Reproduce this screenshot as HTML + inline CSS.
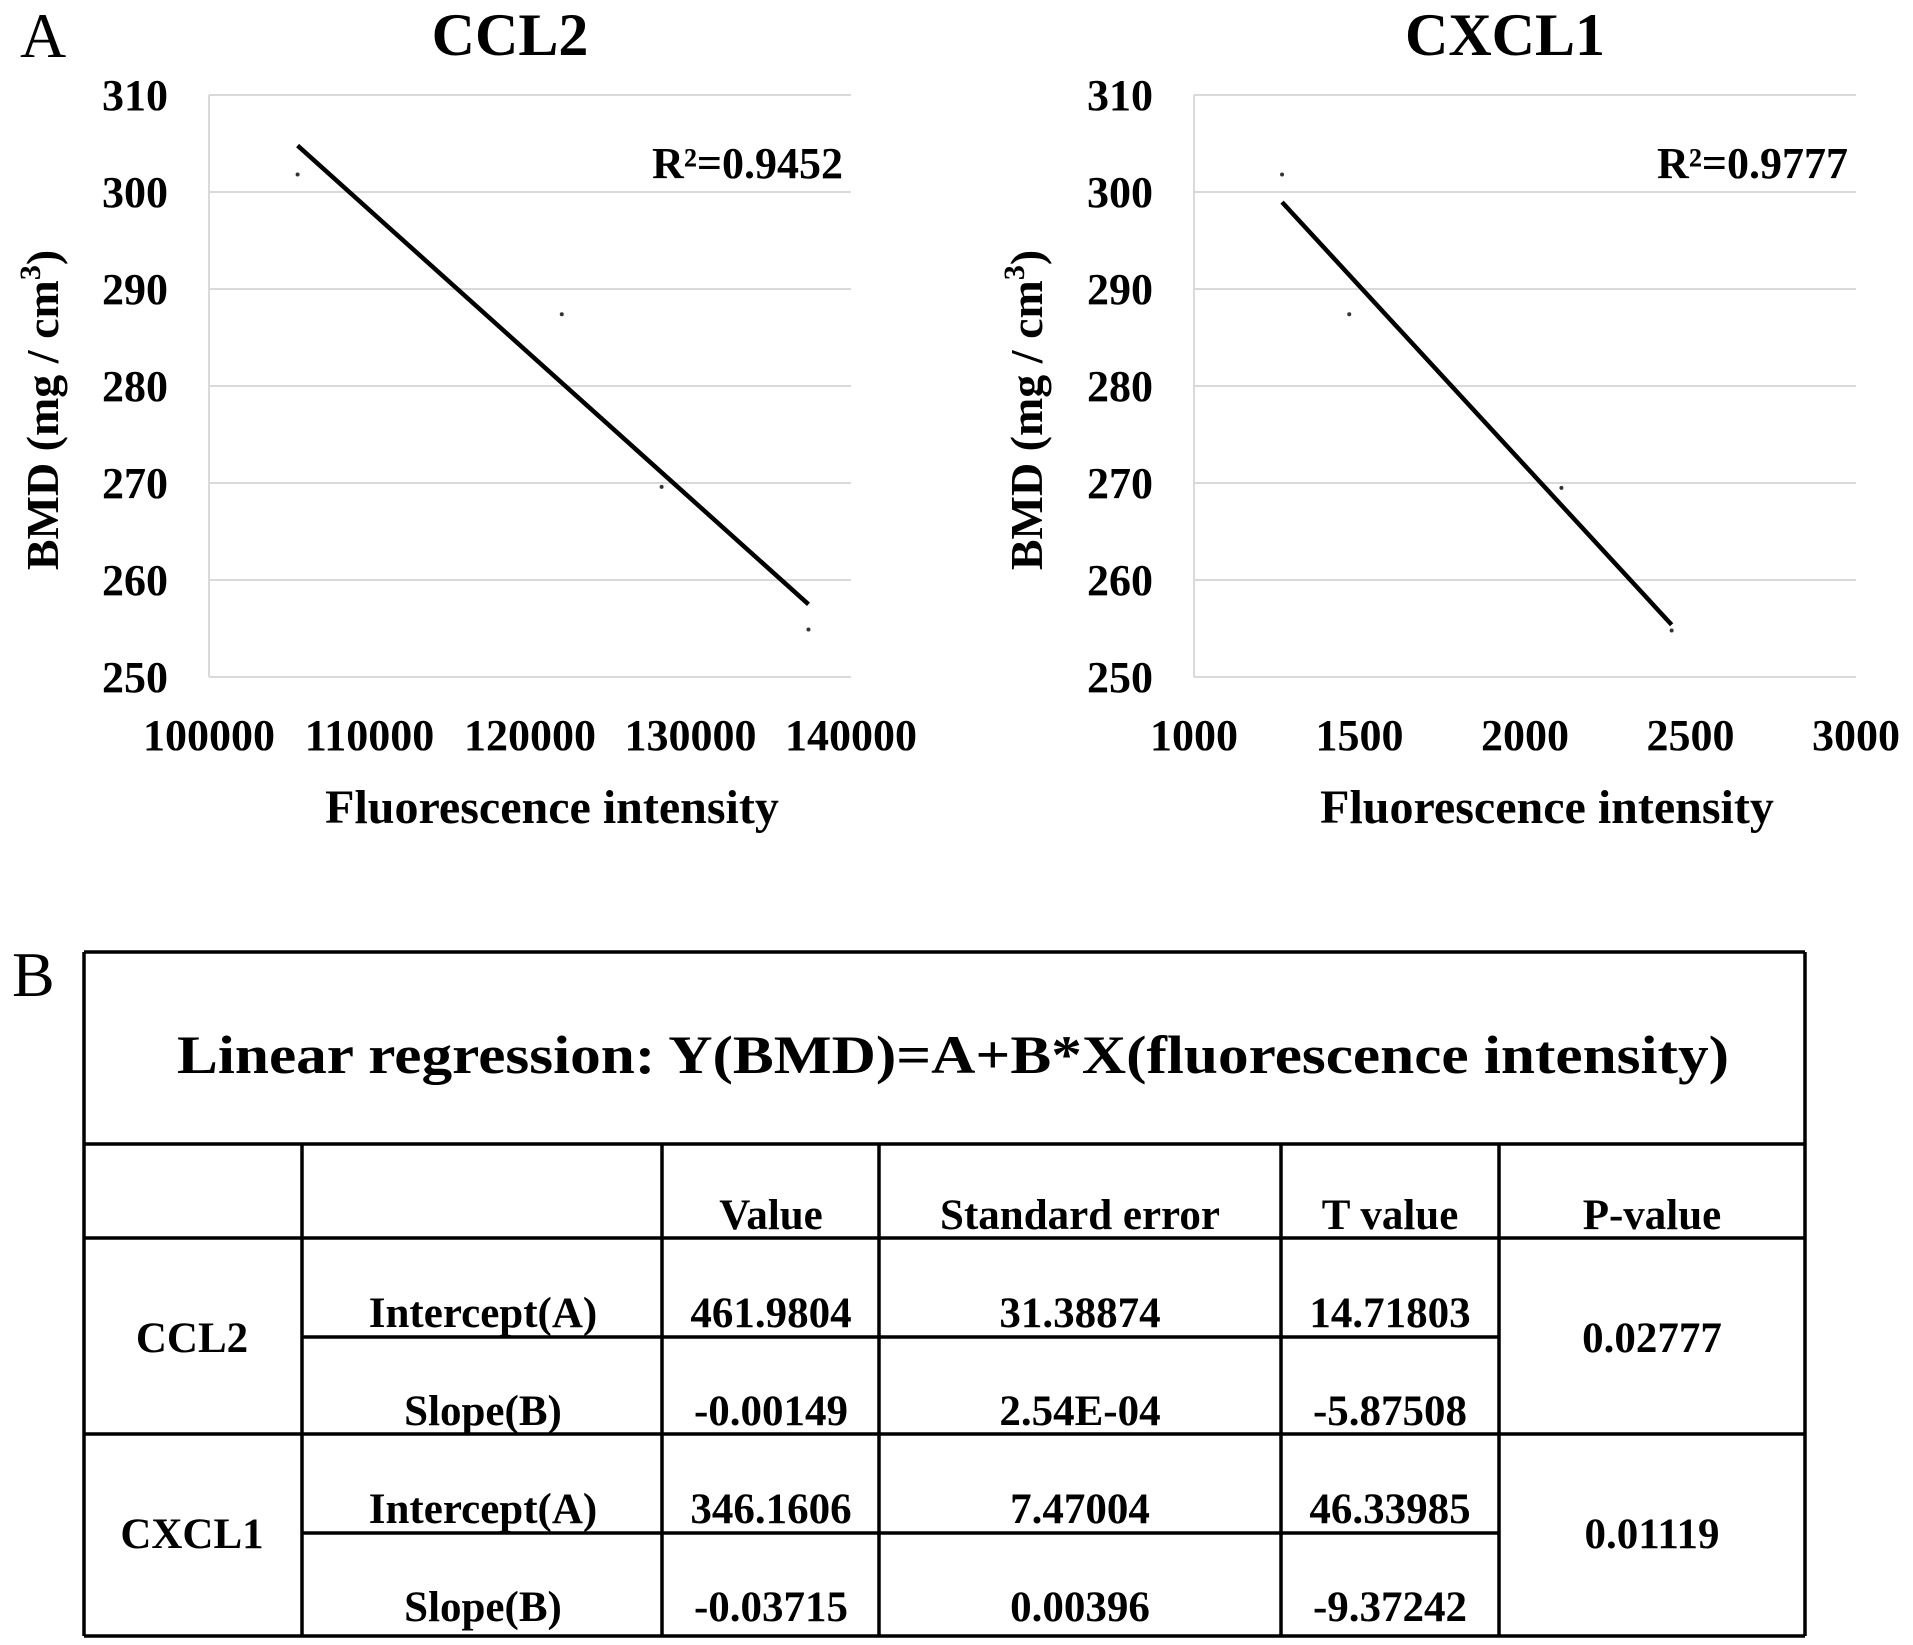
<!DOCTYPE html>
<html><head><meta charset="utf-8"><style>
html,body{margin:0;padding:0;background:#fff;}
svg{display:block;font-family:"Liberation Serif",serif;}
</style></head><body>
<svg id="fig" width="1913" height="1645" viewBox="0 0 1913 1645" xmlns="http://www.w3.org/2000/svg">
<text x="20" y="57" font-size="64">A</text>
<text x="12" y="996" font-size="64">B</text>
<g id="charts"></g>
<g id="table"></g>
</svg>
<script>
const yTicks = [250, 260, 270, 280, 290, 300, 310];
const ccl2XTicks = [100000, 110000, 120000, 130000, 140000];
const ccl2X = [105520, 121980, 128200, 137350];
const ccl2Y = [301.8, 287.4, 269.6, 254.9];
const ccl2R2 = "R²=0.9452";
const cxcl1XTicks = [1000, 1500, 2000, 2500, 3000];
const cxcl1X = [1266, 1469, 2110, 2443];
const cxcl1Y = [301.8, 287.4, 269.5, 254.8];
const cxcl1R2 = "R²=0.9777";

const NS = "http://www.w3.org/2000/svg";
function mk(tag, attrs, parent, txt){
  const e = document.createElementNS(NS, tag);
  for (const k in attrs) e.setAttribute(k, attrs[k]);
  if (txt !== undefined) e.textContent = txt;
  parent.appendChild(e); return e;
}
const charts = document.getElementById('charts');

function drawChart(cfg){
  const g = mk('g', {}, charts);
  
  
  const L = cfg.left, R = cfg.right, T = 95, B = 677;
  const xs = cfg.xTicks, x0 = xs[0], x1 = xs[xs.length-1];
  const y0 = yTicks[0], y1 = yTicks[yTicks.length-1];
  const sx = v => L + (v - x0) / (x1 - x0) * (R - L);
  const sy = v => B - (v - y0) / (y1 - y0) * (B - T);
  yTicks.forEach(t => {
    const ln = mk('line', {x1:L, x2:R, y1:sy(t), y2:sy(t), stroke:'#d9d9d9', 'stroke-width':2}, g);
    
    
    const tx = mk('text', {x:cfg.yLabelRight, y:sy(t)+15, 'text-anchor':'end', 'font-size':44, 'font-weight':'bold'}, g, String(t));
    
    
  });
  const ax = mk('line', {x1:L, x2:L, y1:T, y2:B, stroke:'#d9d9d9', 'stroke-width':2}, g);
  
  
  xs.forEach(t => {
    const tx = mk('text', {x:sx(t), y:750, 'text-anchor':'middle', 'font-size':44, 'font-weight':'bold'}, g, String(t));
    
    
  });
  cfg.xs.forEach((v, i) => {
    const c = mk('circle', {cx:sx(v), cy:sy(cfg.ys[i]), r:2, fill:'#333'}, g);
    
    
  });
  const n = cfg.xs.length;
  const mx = cfg.xs.reduce((a,b)=>a+b,0)/n, my = cfg.ys.reduce((a,b)=>a+b,0)/n;
  let sxy = 0, sxx = 0;
  cfg.xs.forEach((v,i)=>{ sxy += (v-mx)*(cfg.ys[i]-my); sxx += (v-mx)*(v-mx); });
  const b = sxy/sxx, a = my - b*mx;
  const xa = Math.min(...cfg.xs), xb = Math.max(...cfg.xs);
  const tl = mk('line', {x1:sx(xa), y1:sy(a+b*xa), x2:sx(xb), y2:sy(a+b*xb), stroke:'#000', 'stroke-width':4.5}, g);
  
  
  const r2 = mk('text', {x:R-8, y:178, 'text-anchor':'end', 'font-size':44, 'font-weight':'bold'}, g, cfg.r2);
  
  
  const ti = mk('text', {x:(L+R)/2 - 20, y:55, 'text-anchor':'middle', 'font-size':60, 'font-weight':'bold'}, g, cfg.title);
  
  
  const xt = mk('text', {x:(L+R)/2 + 22, y:823, 'text-anchor':'middle', 'font-size':48, 'font-weight':'bold'}, g, 'Fluorescence intensity');
  
  
  const yt = mk('text', {x:0, y:0, 'text-anchor':'middle', 'font-size':46, 'font-weight':'bold', transform:'translate(' + (cfg.yTitleX) + ',410) rotate(-90)'}, g);
  
  
  mk('tspan', {}, yt, 'BMD (mg / cm');
  mk('tspan', {'font-size':30, dy:-18}, yt, '3');
  mk('tspan', {dy:18}, yt, ')');
}
drawChart({name:'ccl2-chart', title:'CCL2', left:209, right:851, yLabelRight:168, yTitleX:58, xTicks:ccl2XTicks, xs:ccl2X, ys:ccl2Y, r2:ccl2R2});
drawChart({name:'cxcl1-chart', title:'CXCL1', left:1194, right:1856, yLabelRight:1153, yTitleX:1042, xTicks:cxcl1XTicks, xs:cxcl1X, ys:cxcl1Y, r2:cxcl1R2});

const tb = document.getElementById('table');
function ln(x1,y1,x2,y2,name){
  const l = mk('line', {x1:x1,y1:y1,x2:x2,y2:y2,stroke:'#000','stroke-width':3.5}, tb);
  
  
}
function tx(x,y,s,name,fs){
  const t = mk('text', {x:x,y:y,'text-anchor':'middle','font-size':fs||43,'font-weight':'bold'}, tb, s);
  
  
}
const TL=84, TR=1805, TT=952, TB=1636;
ln(TL,TT,TR,TT,'table-border-top'); ln(TL,TB,TR,TB,'table-border-bottom');
ln(TL,TT,TL,TB,'table-border-left'); ln(TR,TT,TR,TB,'table-border-right');
ln(TL,1144,TR,1144,'title-row-line'); ln(TL,1238,TR,1238,'header-row-line'); ln(TL,1434,TR,1434,'ccl2-block-line');
ln(302,1337,1499,1337,'ccl2-subrow-line'); ln(302,1533,1499,1533,'cxcl1-subrow-line');
[302,662,879,1281,1499].forEach(x=>ln(x,1144,x,TB,'column-line'));
const t0 = mk('text', {x:953,y:1073,'text-anchor':'middle','font-size':54,'font-weight':'bold',textLength:1552,lengthAdjust:'spacingAndGlyphs'}, tb, 'Linear regression: Y(BMD)=A+B*X(fluorescence intensity)');


tx(771,1229,'Value','header-value'); tx(1080,1229,'Standard error','header-standard-error');
tx(1390,1229,'T value','header-t-value'); tx(1652,1229,'P-value','header-p-value');
tx(192,1352,'CCL2','row-ccl2'); tx(192,1548,'CXCL1','row-cxcl1');
const rows = [
 [1327,'Intercept(A)','461.9804','31.38874','14.71803'],
 [1425,'Slope(B)','-0.00149','2.54E-04','-5.87508'],
 [1523,'Intercept(A)','346.1606','7.47004','46.33985'],
 [1621,'Slope(B)','-0.03715','0.00396','-9.37242']];
rows.forEach(r=>{
  tx(483,r[0],r[1],'param-label'); tx(771,r[0],r[2],'value-cell');
  tx(1080,r[0],r[3],'std-error-cell'); tx(1390,r[0],r[4],'t-value-cell');
});
tx(1652,1352,'0.02777','p-value-ccl2'); tx(1652,1548,'0.01119','p-value-cxcl1');
</script>
</body></html>
